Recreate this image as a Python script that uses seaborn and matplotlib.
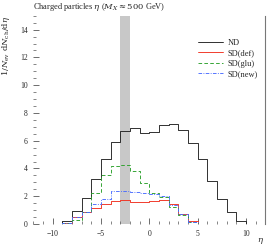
import numpy as np
import pandas as pd
import matplotlib
matplotlib.use("Agg")
import matplotlib.pyplot as plt
from matplotlib.ticker import MultipleLocator
import seaborn as sns

# bin edges in eta, unit width from -12 to 12
edges = list(range(-12, 13))

# one value per bin (-12..12)
nd = [0, 0, 0.03, 0.2, 0.94, 1.87, 3.23, 4.68, 5.93, 6.7, 6.89, 6.58,
      6.63, 7.15, 7.2, 6.77, 5.86, 4.66, 3.12, 1.8, 0.84, 0.19, 0.02, 0]
sd_def = [0, 0, 0, 0.1, 0.48, 0.86, 1.15, 1.45, 1.65, 1.75, 1.62, 1.6,
          1.65, 1.7, 1.42, 0.72, 0.18, 0, 0, 0, 0, 0, 0, 0]
sd_glu = [0, 0, 0, 0.08, 0.3, 0.85, 2.21, 3.5, 4.17, 4.28, 3.85, 2.95,
          2.2, 1.95, 1.2, 0.62, 0.17, 0, 0, 0, 0, 0, 0, 0]
sd_new = [0, 0, 0, 0.05, 0.5, 0.9, 1.42, 1.82, 2.35, 2.4, 2.3, 2.2,
          2.16, 2.03, 1.4, 0.7, 0.17, 0, 0, 0, 0, 0, 0, 0]

labels = ['ND', 'SD(def)', 'SD(glu)', 'SD(new)']
series = [nd, sd_def, sd_glu, sd_new]
colors = ['#222222', '#f03020', '#2aa02a', '#4a6cff']
styles = ['-', '-', (0, (4, 2.5)), (0, (4, 1.5, 1, 1.5))]

centers = [(a + b) / 2 for a, b in zip(edges[:-1], edges[1:])]
df = pd.concat([pd.DataFrame({'eta': centers, 'w': s, 'gen': l})
                for s, l in zip(series, labels)])

sns.set_style("ticks")
plt.rcParams['font.family'] = ['Liberation Serif', 'DejaVu Serif']
plt.rcParams['mathtext.fontset'] = 'dejavuserif'

fig = plt.figure(figsize=(2.74, 2.48), dpi=100)
ax = fig.add_axes([0.1219, 0.0968, 0.8467, 0.8395])

ax.axvspan(-3, -2, color='#c8c8c8', lw=0, zorder=0)

for l, c, ls in zip(labels, colors, styles):
    sns.histplot(data=df[df['gen'] == l], x='eta', weights='w', bins=edges,
                 element='step', fill=False, color=c, linestyle=ls,
                 linewidth=0.65, ax=ax, label=l, zorder=3)

ax.set_xlim(-12, 12)
ax.set_ylim(0, 15)
ax.xaxis.set_major_locator(MultipleLocator(5))
ax.xaxis.set_minor_locator(MultipleLocator(1))
ax.yaxis.set_major_locator(MultipleLocator(2))
ax.yaxis.set_minor_locator(MultipleLocator(0.5))
ax.tick_params(which='major', direction='in', length=4, width=0.6,
               labelsize=5.5, color='#555555', pad=4)
ax.tick_params(which='minor', direction='in', length=2, width=0.5,
               color='#555555')
ax.tick_params(axis='y', right=False)
ax.tick_params(axis='x', top=False)

for side in ['left', 'top', 'bottom']:
    ax.spines[side].set_visible(False)
ax.spines['right'].set_color('#777777')
ax.spines['right'].set_linewidth(0.8)

ax.set_xlabel(r'$\eta$', fontsize=6, ha='right')
ax.xaxis.set_label_coords(0.995, -0.06)
ax.set_ylabel(r'$1/N_\mathrm{ev}\ \mathrm{d}N_\mathrm{ch}/\mathrm{d}\eta$',
              loc='top', fontsize=6, labelpad=6)
ax.set_title(r'Charged particles $\eta$ ($M_X \approx 500$ GeV)',
             loc='left', fontsize=6, pad=5)

ax.legend(loc='upper right', bbox_to_anchor=(1.0, 0.925), frameon=False,
          fontsize=6, handlelength=3.0, handletextpad=0.5, labelspacing=0.3)

fig.savefig('out.png', dpi=100)
